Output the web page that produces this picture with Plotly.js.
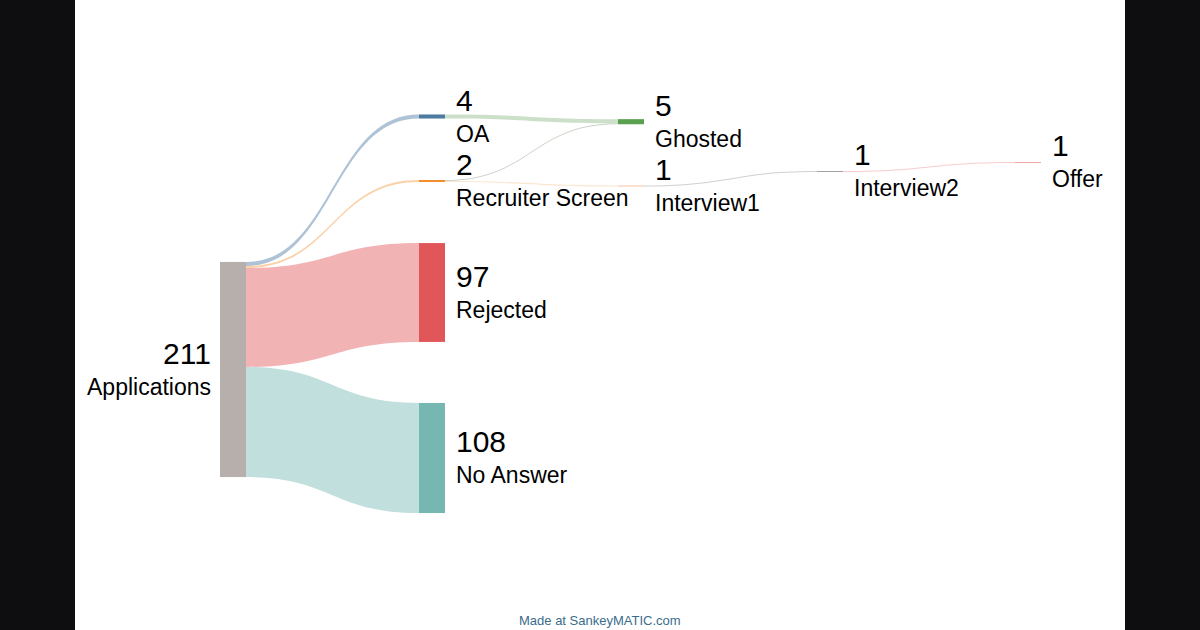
<!DOCTYPE html>
<html>
<head>
<meta charset="utf-8">
<script src="https://cdn.plot.ly/plotly-3.0.1.min.js"></script>
<style>
  html, body { margin: 0; padding: 0; background: #0e0e10; width: 1200px; height: 630px; overflow: hidden; }
  #chart { position: absolute; left: 75px; top: 0; width: 1050px; height: 630px; background: #ffffff; }
</style>
</head>
<body>
<div id="chart"></div>
<script>
// ---- data ----
const nodeNames = ["Applications", "OA", "Recruiter Screen", "Rejected", "No Answer", "Ghosted", "Interview1", "Interview2", "Offer"];
const linkSource = [0, 0, 0, 0, 1, 2, 2, 6, 7];
const linkTarget = [1, 2, 3, 4, 5, 5, 6, 7, 8];
const linkValue  = [4, 2, 97, 108, 4, 1, 1, 1, 1];

// ---- styles / layout config ----
const nodeColors = ["#b7afab", "#4e7ca0", "#f28e2b", "#e15759", "#76b7b2", "#59a14f", "#f6c3a0", "#a3a3a3", "#f3a6a6"];
const linkColors = [
  "rgba(78,121,167,0.45)", "rgba(242,142,43,0.40)", "rgba(225,87,89,0.45)", "rgba(118,183,178,0.45)",
  "rgba(120,170,110,0.38)", "rgba(140,160,130,0.45)", "rgba(242,142,43,0.22)", "rgba(150,150,150,0.45)", "rgba(225,87,89,0.30)"
];
const W = 1050, H = 630, THICK = 26;
// node centres in chart pixels (layout placement)
const nodeCx = [158, 357, 357, 357, 357, 556, 556, 755, 953];
const nodeCy = [369.5, 116.5, 181, 292.5, 458, 121.7, 186, 171.5, 162.5];
const labelLeft = [true, false, false, false, false, false, false, false, false];

// node totals from links
const totals = nodeNames.map((_, i) => {
  let inn = 0, out = 0;
  linkValue.forEach((v, k) => { if (linkTarget[k] === i) inn += v; if (linkSource[k] === i) out += v; });
  return Math.max(inn, out);
});

const trace = {
  type: "sankey",
  arrangement: "fixed",
  domain: { x: [0, 1], y: [0, 1] },
  textfont: { color: "rgba(0,0,0,0)", size: 1 },
  node: {
    label: nodeNames,
    color: nodeColors,
    thickness: THICK,
    pad: 138.3,
    line: { width: 0 },
    x: nodeCx.map(v => v / W),
    y: nodeCy.map(v => v / H)
  },
  link: {
    source: linkSource,
    target: linkTarget,
    value: linkValue,
    color: linkColors
  }
};

const FONT = "Liberation Sans, Arial, Helvetica, sans-serif";
const annotations = [];
nodeNames.forEach((name, i) => {
  const left = labelLeft[i];
  const x = left ? (nodeCx[i] - THICK / 2 - 7) / W : (nodeCx[i] + THICK / 2 + 8.5) / W;
  const y = 1 - nodeCy[i] / H;
  annotations.push({
    xref: "paper", yref: "paper", x: x, y: y,
    xanchor: left ? "right" : "left", yanchor: "bottom", yshift: -2,
    text: String(totals[i]), showarrow: false,
    font: { family: FONT, size: 30, color: "#000000" }
  });
  annotations.push({
    xref: "paper", yref: "paper", x: x, y: y,
    xanchor: left ? "right" : "left", yanchor: "top", yshift: -2,
    text: name, showarrow: false,
    font: { family: FONT, size: 23, color: "#000000" }
  });
});
annotations.push({
  xref: "paper", yref: "paper", x: 0.5, y: 1 - 620 / H, xanchor: "center", yanchor: "middle",
  text: "Made at SankeyMATIC.com", showarrow: false,
  font: { family: FONT, size: 13, color: "#3a6d8c" }
});

const layout = {
  width: W, height: H,
  margin: { l: 0, r: 0, t: 0, b: 0 },
  paper_bgcolor: "#ffffff",
  font: { family: FONT },
  showlegend: false,
  annotations: annotations
};

Plotly.newPlot("chart", [trace], layout, { displayModeBar: false, staticPlot: true });
</script>
</body>
</html>
